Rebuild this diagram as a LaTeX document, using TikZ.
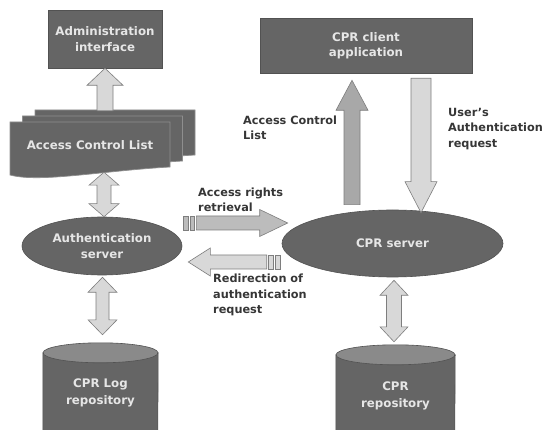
\documentclass[tikz,border=0pt]{standalone}
\usepackage{fontspec}
\setmainfont{DejaVu Sans}
\usetikzlibrary{calc,shapes.geometric}
\definecolor{darkfill}{HTML}{656565}
\definecolor{darkedge}{HTML}{525252}
\definecolor{sheetedge}{HTML}{8E8E8E}
\definecolor{boxtext}{HTML}{E6E6E6}
\definecolor{lbltext}{HTML}{363636}
\definecolor{arrlight}{HTML}{D8D8D8}
\definecolor{arrmid}{HTML}{BCBCBC}
\definecolor{arrdark}{HTML}{A8A8A8}
\definecolor{arredge}{HTML}{7E7E7E}
\definecolor{cyltop}{HTML}{8A8A8A}
% single block arrow: style, start, tip, shaft half width, head half width, head length
\newcommand\blockarrow[6]{%
  \coordinate (bah) at ($(#3)!#6!(#2)$);
  \draw[#1] ($(#2)!#4!90:(#3)$) -- ($(bah)!#4!-90:(#2)$) -- ($(bah)!#5!-90:(#2)$)
    -- (#3) -- ($(bah)!#5!90:(#2)$) -- ($(bah)!#4!90:(#2)$) -- ($(#2)!#4!-90:(#3)$) -- cycle;}
% double block arrow
\newcommand\dblarrow[6]{%
  \coordinate (dah1) at ($(#2)!#6!(#3)$);
  \coordinate (dah2) at ($(#3)!#6!(#2)$);
  \draw[#1] (#2) -- ($(dah1)!#5!90:(#3)$) -- ($(dah1)!#4!90:(#3)$) -- ($(dah2)!#4!-90:(#2)$)
    -- ($(dah2)!#5!-90:(#2)$) -- (#3) -- ($(dah2)!#5!90:(#2)$) -- ($(dah2)!#4!90:(#2)$)
    -- ($(dah1)!#4!-90:(#3)$) -- ($(dah1)!#5!-90:(#3)$) -- cycle;}
\newcommand\sheetpath{(10,122) -- (170,122) -- (170,167) .. controls (100,171) and (40,183) .. (10,175) -- cycle}
\begin{document}
\begin{tikzpicture}[x=1pt,y=-1pt,
  darkbox/.style={rectangle,fill=darkfill,draw=darkedge,line width=0.6pt,text=boxtext,align=center,inner sep=0pt,
    font=\bfseries\fontsize{11.8}{15.5}\selectfont},
  darkell/.style={ellipse,fill=darkfill,draw=darkedge,line width=0.6pt,text=boxtext,align=center,inner sep=0pt,
    font=\bfseries\fontsize{11.8}{16.5}\selectfont},
  intext/.style={rectangle,text=boxtext,align=center,inner sep=0pt,font=\bfseries\fontsize{11.8}{16.5}\selectfont},
  sheet/.style={fill=darkfill,draw=sheetedge,line width=0.7pt},
  cylbody/.style={fill=darkfill,draw=darkedge,line width=0.6pt},
  cyltopst/.style={fill=cyltop,draw=darkedge,line width=0.6pt},
  lbl/.style={text=lbltext,align=left,inner sep=0pt,anchor=west,font=\bfseries\fontsize{11.3}{15.2}\selectfont},
  arrL/.style={fill=arrlight,draw=arredge,line width=0.6pt},
  arrM/.style={fill=arrmid,draw=arredge,line width=0.6pt},
  arrD/.style={fill=arrdark,draw=arredge,line width=0.6pt}]
\useasboundingbox[fill=white] (0,0) rectangle (546,430);

% nodes
\node[darkbox,minimum width=114pt,minimum height=58pt] (admin) at (105,39) {Administration\\interface};
\node[darkbox,minimum width=212pt,minimum height=55pt] (client) at (366,45.5) {CPR client\\application};

% Access Control List (stacked documents)
\begin{scope}[shift={(25,-12)}] \path[sheet] \sheetpath; \end{scope}
\begin{scope}[shift={(12.5,-6)}] \path[sheet] \sheetpath; \end{scope}
\path[sheet] \sheetpath;
\node[intext,minimum width=160pt,minimum height=46pt] (acl) at (90,145) {Access Control List};

\node[darkell,minimum width=160pt,minimum height=58pt] (auth) at (102,246) {Authentication\\server};
\node[darkell,minimum width=221pt,minimum height=67pt] (server) at (392.5,243.5) {CPR server};

% cylinders
\node[intext,minimum width=115pt,minimum height=78pt] (log) at (100.5,392) {};
\path[cylbody] (log.north west) -- (log.south west) arc[start angle=180,end angle=360,x radius=57.5pt,y radius=10pt] -- (log.north east) -- cycle;
\path[cyltopst] (log.north) ellipse[x radius=57.5pt,y radius=10pt];
\node[intext] at ($(log.center)+(0,1)$) {CPR Log\\repository};

\node[intext,minimum width=119pt,minimum height=76pt] (repo) at (395.5,393) {};
\path[cylbody] (repo.north west) -- (repo.south west) arc[start angle=180,end angle=360,x radius=59.5pt,y radius=10pt] -- (repo.north east) -- cycle;
\path[cyltopst] (repo.north) ellipse[x radius=59.5pt,y radius=10pt];
\node[intext] at ($(repo.center)+(0,3)$) {CPR\\repository};

% arrow end points
\coordinate (a1s) at ($(admin.south |- acl.north)+(0,-11)$);
\coordinate (a1e) at (admin.south);
\coordinate (a2s) at ($(acl.south)+(14,4)$);
\coordinate (a2e) at ($(auth.north)+(2,0)$);
\coordinate (a3s) at ($(auth.south)+(0.5,2)$);
\coordinate (a3e) at ($(log.north)+(2,-18)$);
\coordinate (a4s) at ($(server.north)+(-40.5,-5)$);
\coordinate (a4e) at ($(client.south)+(-14,7)$);
\coordinate (a5s) at ($(client.south)+(55,5)$);
\coordinate (a5e) at ($(server.north)+(28.5,3)$);
\coordinate (a6s) at ($(server.south)+(1.5,3)$);
\coordinate (a6e) at ($(repo.north)+(-1.5,-13)$);
\coordinate (a7s) at ($(auth.east)+(14,-23)$);
\coordinate (a7e) at ($(server.west)+(6,-20.5)$);
\coordinate (a8s) at ($(server.west)+(-15,18.5)$);
\coordinate (a8e) at ($(auth.east)+(6,16)$);

% arrows
\blockarrow{arrL}{a1s}{a1e}{8pt}{18pt}{17pt}
\dblarrow{arrL}{a2s}{a2e}{7pt}{15pt}{13pt}
\dblarrow{arrL}{a3s}{a3e}{6.5pt}{14.5pt}{15pt}
\blockarrow{arrD}{a4s}{a4e}{8pt}{16pt}{30pt}
\blockarrow{arrL}{a5s}{a5e}{10pt}{16pt}{31pt}
\dblarrow{arrL}{a6s}{a6e}{7.5pt}{14pt}{15pt}
\blockarrow{arrM}{a7s}{a7e}{7pt}{13.5pt}{28pt}
\draw[arrM] ($(a7s)+(-13,-7)$) rectangle ($(a7s)+(-8,7)$);
\draw[arrM] ($(a7s)+(-6,-7)$) rectangle ($(a7s)+(-2,7)$);
\blockarrow{arrL}{a8s}{a8e}{7pt}{14pt}{22pt}
\draw[arrL] ($(a8s)+(2,-7)$) rectangle ($(a8s)+(7,7)$);
\draw[arrL] ($(a8s)+(9,-7)$) rectangle ($(a8s)+(14,7)$);

% labels
\node[lbl] (lacl) at (243,128) {Access Control\\List};
\node[lbl] (luser) at (448,129) {User's\\Authentication\\request};
\node[lbl] (lret) at (198,200) {Access rights\\retrieval};
\node[lbl] (lredir) at (213,295) {Redirection of\\authentication\\request};
\end{tikzpicture}
\end{document}
